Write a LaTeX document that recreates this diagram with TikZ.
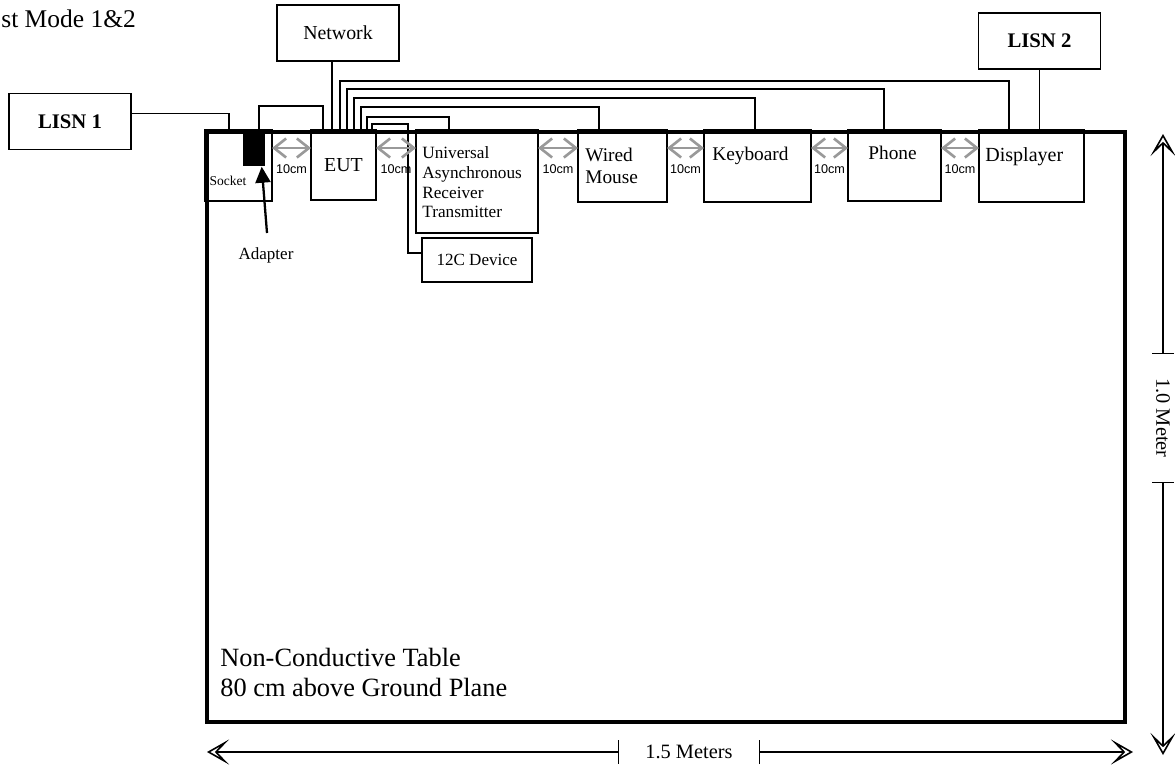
\documentclass[tikz,border=0pt]{standalone}
\usepackage{fontspec}
\setmainfont{Liberation Serif}
\newfontfamily\arialfont{Liberation Sans}
\usetikzlibrary{arrows.meta,positioning,calc}
\tikzset{
device/.style={draw,line width=.8pt,inner sep=2pt,outer sep=0pt,font=\fontsize{11.3}{13}\selectfont},
lisn/.style={draw,line width=.8pt,minimum width=24.4mm,minimum height=11.2mm,font=\bfseries\fontsize{11.8}{13}\selectfont},
tablebox/.style={draw,line width=2pt,minimum width=183.6mm,minimum height=118mm,anchor=north west},
wire/.style={line width=1pt},
gap/.style={{Straight Barb[length=2.4mm,width=3.8mm]}-{Straight Barb[length=2.4mm,width=3.8mm]},line width=1.5pt,black!40},
gaplabel/.style={inner sep=0pt,text=black,font=\arialfont\fontsize{7.2}{8}\selectfont},
dimline/.style={line width=.9pt},
dimtip/.tip={Stealth[open,length=4.4mm,width=5mm,inset=2.4mm]},
pointer/.style={-{Triangle[length=3.2mm,width=3mm]},line width=1.3pt},
lbl/.style={inner sep=0pt,align=left}
}
\begin{document}
\begin{tikzpicture}[x=.2mm,y=-.2mm]
\useasboundingbox (0,0) rectangle (1175,770);
\node[anchor=base west,inner sep=0pt,font=\fontsize{14.5}{16}\selectfont] (mode) at (1,27) {st Mode 1\&2};
\node[tablebox] (tbl) at (205,130) {};
\node[device,minimum width=13.4mm,minimum height=14.2mm,anchor=north west] (socket) at (205,130) {};
\node[fill=black,inner sep=0pt,minimum width=4.4mm,minimum height=7.2mm,anchor=north west] (adapter) at (243,130) {};
\node[device,minimum width=13mm,minimum height=14mm,right=7.8mm of socket.north east,anchor=north west] (eut) {EUT\hspace{2mm}};
\node[device,minimum width=24.4mm,minimum height=20.6mm,right=8mm of eut.north east,anchor=north west] (uart) {};
\node[device,minimum width=17.8mm,minimum height=14.4mm,right=8mm of uart.north east,anchor=north west] (mouse) {};
\node[device,minimum width=21.4mm,minimum height=14.4mm,right=7.4mm of mouse.north east,anchor=north west] (kbd) {};
\node[device,minimum width=18.6mm,minimum height=14.2mm,right=7.4mm of kbd.north east,anchor=north west] (phone) {};
\node[device,minimum width=21mm,minimum height=14.4mm,right=7.6mm of phone.north east,anchor=north west] (disp) {};
\node[device,minimum width=22mm,minimum height=8.8mm,font=\fontsize{9.7}{11}\selectfont,below right=1mm and 1.2mm of uart.south west,anchor=north west] (i2c) {12C Device};
\node[device,minimum width=24.4mm,minimum height=11.2mm] (net) at (338,33) {Network};
\node[lisn] (lisn1) at (70,121.5) {LISN 1};
\node[lisn] (lisn2) at (1039.5,41) {LISN 2};
\node[lbl,font=\fontsize{7.7}{9}\selectfont] (socketlbl) at ($(socket.south west)+(23,-20)$) {Socket};
\node[lbl,anchor=north west,font=\fontsize{9.8}{11.3}\selectfont] (uartlbl) at ($(uart.north west)+(6,16)$) {Universal\\Asynchronous\\Receiver\\Transmitter};
\node[lbl,anchor=north west,font=\fontsize{11}{12.5}\selectfont] (mouselbl) at ($(mouse.north west)+(7,18)$) {Wired\\Mouse};
\node[lbl,anchor=base west,font=\fontsize{11}{13}\selectfont] (kbdlbl) at ($(kbd.north west)+(8,30)$) {Keyboard};
\node[lbl,anchor=base,font=\fontsize{11}{13}\selectfont] (phonelbl) at ($(phone.north)+(-2,29)$) {Phone};
\node[lbl,anchor=base west,font=\fontsize{11.4}{13}\selectfont] (displbl) at ($(disp.north west)+(6,31)$) {Displayer};
\node[lbl,anchor=south west,font=\fontsize{15}{17.4}\selectfont] (tbllbl) at ($(tbl.south west)+(15,-26)$) {Non-Conductive Table\\80 cm above Ground Plane};
\node[font=\fontsize{9.7}{11}\selectfont] (adlbl) at (266,255) {Adapter};
\coordinate (adtail) at (267,233);
\draw[pointer] (adtail) -- ($(adapter.south east)+(-4,0)$);
\coordinate (netpt) at ($(eut.north west)+(21,0)$);
\draw[wire] (netpt) -- (netpt |- net.south);
\draw[wire] ($(lisn1.east)+(0,-8)$) -| ($(socket.north west)+(24,0)$);
\draw[wire] ($(adapter.north west)+(16,0)$) -- ++(0,-24) -| ($(eut.north west)+(12,0)$);
\draw[wire] ($(eut.north west)+(29,0)$) -- ++(0,-49) -| ($(disp.north west)+(30,0)$);
\draw[wire] ($(eut.north west)+(36,0)$) -- ++(0,-41) -| ($(phone.north west)+(36,0)$);
\draw[wire] ($(eut.north west)+(43,0)$) -- ++(0,-32) -| ($(kbd.north west)+(51,0)$);
\draw[wire] ($(eut.north west)+(50,0)$) -- ++(0,-23) -| ($(mouse.north west)+(21,0)$);
\draw[wire] ($(eut.north west)+(56,0)$) -- ++(0,-13) -| ($(uart.north west)+(33,0)$);
\draw[wire] ($(eut.north west)+(61,0)$) -- ++(0,-6) -| ($(i2c.west)+(-14,-7)$) -- ($(i2c.west)+(0,-7)$);
\draw[wire] (lisn2.south) -- (lisn2.south |- disp.north);
\draw[gap] ($(socket.north east)+(0,18)$) -- node[gaplabel,below=3mm] {10cm} ($(eut.north west)+(0,18)$);
\draw[gap] ($(eut.north east)+(0,18)$) -- node[gaplabel,below=3mm] {10cm} ($(uart.north west)+(0,18)$);
\draw[gap] ($(uart.north east)+(0,18)$) -- node[gaplabel,below=3mm] {10cm} ($(mouse.north west)+(0,18)$);
\draw[gap] ($(mouse.north east)+(0,18)$) -- node[gaplabel,below=3mm] {10cm} ($(kbd.north west)+(0,18)$);
\draw[gap] ($(kbd.north east)+(0,18)$) -- node[gaplabel,below=3mm] {10cm} ($(phone.north west)+(0,18)$);
\draw[gap] ($(phone.north east)+(0,18)$) -- node[gaplabel,below=3mm] {10cm} ($(disp.north west)+(0,18)$);
\node[font=\fontsize{11.6}{13}\selectfont] (wlbl) at (689,752) {1.5 Meters};
\coordinate (wl) at (207,752);
\coordinate (wr) at (1133,752);
\draw[dimline,dimtip-{Bar[width=4.8mm]}] (wl) -- ([xshift=-4mm]wlbl.west);
\draw[dimline,{Bar[width=4.8mm]}-dimtip] ([xshift=4mm]wlbl.east) -- (wr);
\node[rotate=-90,font=\fontsize{11.6}{13}\selectfont] (hlbl) at (1163,418) {1.0 Meter};
\coordinate (ht) at (1163,134);
\coordinate (hb) at (1163,755);
\draw[dimline,dimtip-{Bar[width=4.4mm]}] (ht) -- ([yshift=3.6mm]hlbl.west);
\draw[dimline,{Bar[width=4.4mm]}-dimtip] ([yshift=-3.6mm]hlbl.east) -- (hb);
\end{tikzpicture}
\end{document}
